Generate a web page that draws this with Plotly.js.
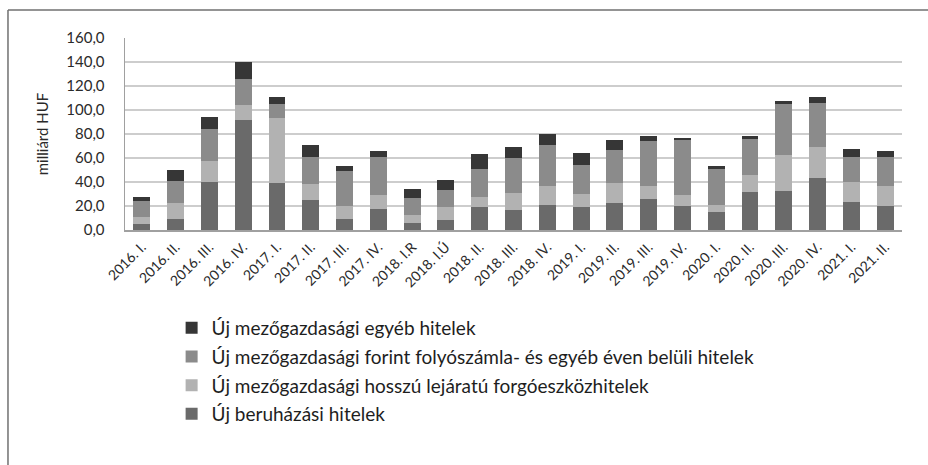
<!DOCTYPE html>
<html>
<head>
<meta charset="utf-8">
<script src="https://cdn.plot.ly/plotly-3.0.1.min.js"></script>
<style>html,body{margin:0;padding:0;background:#fff;}#chart{width:928px;height:465px;}</style>
</head>
<body>
<div id="chart"></div>
<script>
const categories = ["2016. I.","2016. II.","2016. III.","2016. IV.","2017. I.","2017. II.","2017. III.","2017. IV.","2018. I.R","2018. I.Ú","2018. II.","2018. III.","2018. IV.","2019. I.","2019. II.","2019. III.","2019. IV.","2020. I.","2020. II.","2020. III.","2020. IV.","2021. I.","2021. II."];
const beruhazasi = [5.0, 8.9, 40.3, 91.4, 39.4, 24.7, 9.2, 17.2, 6.1, 8.3, 18.9, 16.7, 20.8, 19.2, 22.5, 25.8, 20.0, 15.3, 31.7, 32.5, 43.3, 23.3, 20.0];
const hosszuForgo = [5.6, 13.9, 16.9, 12.5, 53.7, 13.6, 10.8, 11.7, 6.1, 10.9, 8.6, 13.9, 16.1, 10.8, 16.4, 11.1, 9.4, 5.8, 13.9, 29.7, 26.1, 16.7, 16.7];
const folyoszamla = [13.3, 18.3, 27.2, 21.9, 12.2, 22.8, 28.9, 32.2, 14.2, 14.1, 23.1, 29.1, 33.9, 24.2, 27.8, 37.3, 45.3, 30.0, 30.2, 42.8, 36.2, 20.8, 24.4];
const egyeb = [3.6, 8.9, 10.0, 13.9, 5.5, 9.5, 4.7, 4.5, 8.0, 8.1, 13.0, 9.5, 9.2, 10.0, 8.0, 4.4, 2.0, 2.2, 2.5, 2.2, 5.2, 6.7, 4.5];
const seriesNames = ["Új beruházási hitelek","Új mezőgazdasági hosszú lejáratú forgóeszközhitelek","Új mezőgazdasági forint folyószámla- és egyéb éven belüli hitelek","Új mezőgazdasági egyéb hitelek"];
const seriesColors = ["#6a6a6a","#b2b2b2","#8b8b8b","#363636"];
const seriesValues = [beruhazasi, hosszuForgo, folyoszamla, egyeb];

const traces = seriesValues.map((vals, i) => ({
  type: 'bar',
  x: categories,
  y: vals,
  name: seriesNames[i],
  legendgroup: 'g' + i,
  legendrank: 100 - i,
  marker: {color: seriesColors[i], line: {width: 0}},
  hoverinfo: 'skip'
}));

const FONT = 'Lato, "Open Sans", sans-serif';
const layout = {
  width: 928, height: 465,
  margin: {l: 125, r: 26, t: 38, b: 235},
  barmode: 'stack',
  bargap: 0.5,
  paper_bgcolor: '#ffffff',
  plot_bgcolor: '#ffffff',
  separators: ', ',
  font: {family: FONT, color: '#2a2a2a', size: 14},
  showlegend: true,
  legend: {
    traceorder: 'grouped',
    tracegroupgap: 1,
    x: 0.06, xanchor: 'left',
    y: -0.411, yanchor: 'top',
    font: {family: FONT, size: 19, color: '#1e1e1e'},
    itemwidth: 30,
    bgcolor: 'rgba(0,0,0,0)'
  },
  xaxis: {
    type: 'category',
    tickangle: -45,
    tickfont: {family: FONT, size: 14, color: '#2a2a2a'},
    showgrid: false,
    showline: true,
    linecolor: '#a0a0a0',
    linewidth: 1.5,
    ticks: '',
    ticklabelstandoff: 2
  },
  yaxis: {
    range: [0, 160],
    dtick: 20,
    tickformat: '.1f',
    tickfont: {family: FONT, size: 15, color: '#2a2a2a'},
    showgrid: true,
    gridcolor: '#cdcdcd',
    gridwidth: 1.5,
    zeroline: false,
    showline: true,
    linecolor: '#a0a0a0',
    linewidth: 1.5,
    ticks: '',
    ticklabelstandoff: 16,
    title: {text: 'milliárd HUF', font: {family: FONT, size: 15, color: '#2a2a2a'}, standoff: 14}
  },
  shapes: [
    {type: 'line', xref: 'paper', yref: 'paper', x0: -0.1506, x1: -0.1506, y0: 1.146, y1: -1.25, line: {color: '#707070', width: 1.5}},
    {type: 'line', xref: 'paper', yref: 'paper', x0: -0.1506, x1: 1.04, y0: 1.146, y1: 1.146, line: {color: '#707070', width: 1.5}}
  ]
};

Plotly.newPlot('chart', traces, layout, {staticPlot: true, displayModeBar: false});
</script>
</body>
</html>
